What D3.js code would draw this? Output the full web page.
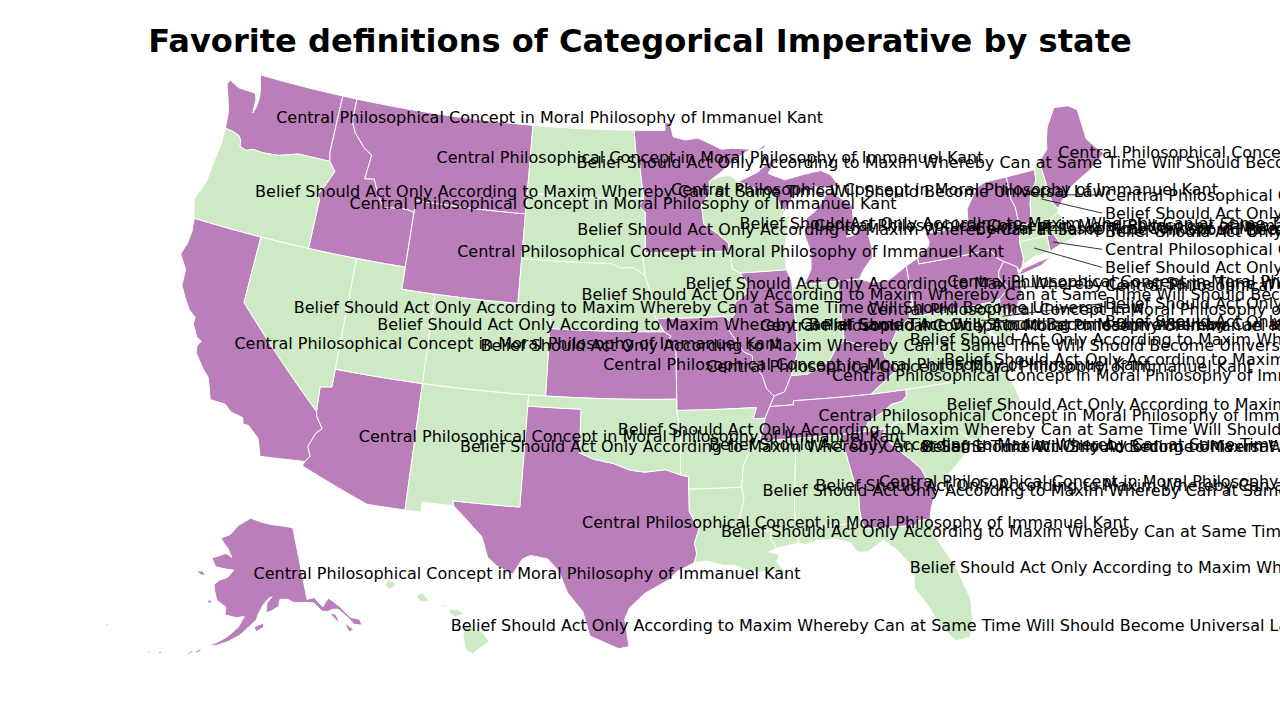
<!DOCTYPE html>
<html>
<head>
<meta charset="utf-8">
<script src="https://cdn.jsdelivr.net/npm/d3@7"></script>
<style>
  body { margin: 0; background: #fff; }
  text { font-family: "DejaVu Sans", sans-serif; fill: #000; }
</style>
</head>
<body>
<svg id="map" width="1280" height="720"></svg>
<script>
// the two definitions and who picked what
const definitions = [
  "Central Philosophical Concept in Moral Philosophy of Immanuel Kant",
  "Belief Should Act Only According to Maxim Whereby Can at Same Time Will Should Become Universal Law"
];
const titleText = "Favorite definitions of Categorical Imperative by state";
const centralStates = ["WA","ID","MT","WY","CA","AZ","TX","AK","MN","MI","KS","MO","IL","OH","KY","TN","GA","PA","NY","VT","ME","RI","NJ"];
const beliefStates = ["OR","NV","UT","CO","NM","ND","SD","NE","OK","IA","WI","AR","LA","MS","AL","IN","WV","VA","NC","SC","FL","NH","MA","CT","DE","MD","HI"];
// small states labelled off to the side
const sideStates = ["VT","NH","MA","RI","CT","NJ","DE","MD"];

const WA = [[[-122.76,49],[-117.03,49],[-117.04,46.42],[-116.92,46],[-118.98,46],[-119.3,45.93],[-120.2,45.72],[-121.2,45.65],[-121.9,45.68],[-122.3,45.55],[-122.76,45.65],[-122.8,45.9],[-123,46.1],[-123.4,46.2],[-123.98,46.25],[-124.05,46.7],[-124.1,47],[-124.4,47.6],[-124.73,48.17],[-124.6,48.38],[-123.9,48.16],[-123.1,48.15],[-122.75,48.14],[-122.6,47.9],[-122.55,47.25],[-122.42,47.6],[-122.4,48],[-122.5,48.4]]];
const OR = [[[-123.98,46.25],[-123.4,46.2],[-123,46.1],[-122.8,45.9],[-122.76,45.65],[-122.3,45.55],[-121.9,45.68],[-121.2,45.65],[-120.2,45.72],[-119.3,45.93],[-118.98,46],[-116.92,46],[-116.47,45.6],[-116.85,44.95],[-117.2,44.45],[-117.03,44.2],[-117.03,42],[-124.2,42],[-124.4,42.4],[-124.55,42.84],[-124.15,43.7],[-124.06,44.7],[-123.95,45.5]]];
const ID = [[[-117.03,49],[-116.05,49],[-116.05,48],[-115.7,47.5],[-114.95,46.93],[-114.35,46.65],[-114.5,45.56],[-113.9,45.63],[-113.45,44.95],[-113,44.45],[-112,44.55],[-111.5,44.55],[-111.05,44.47],[-111.05,42],[-117.03,42],[-117.03,44.2],[-117.2,44.45],[-116.85,44.95],[-116.47,45.6],[-116.92,46],[-117.04,46.42]]];
const MT = [[[-116.05,49],[-104.05,49],[-104.05,45],[-111.05,45],[-111.05,44.47],[-111.5,44.55],[-112,44.55],[-113,44.45],[-113.45,44.95],[-113.9,45.63],[-114.5,45.56],[-114.35,46.65],[-114.95,46.93],[-115.7,47.5],[-116.05,48]]];
const WY = [[[-111.05,45],[-104.05,45],[-104.05,41],[-111.05,41]]];
const UT = [[[-114.05,42],[-111.05,42],[-111.05,41],[-109.05,41],[-109.05,37],[-114.05,37]]];
const CO = [[[-109.05,41],[-102.05,41],[-102.05,37],[-109.05,37]]];
const NV = [[[-120,42],[-114.05,42],[-114.05,36.2],[-114.7,36.1],[-114.63,35],[-120,39]]];
const CA = [[[-124.2,42],[-120,42],[-120,39],[-114.63,35],[-114.57,34.8],[-114.14,34.3],[-114.43,34.05],[-114.72,33.4],[-114.5,33],[-114.72,32.72],[-117.12,32.53],[-117.25,32.85],[-117.45,33.3],[-118.1,33.75],[-118.4,33.75],[-118.5,34.03],[-119.2,34.15],[-119.6,34.42],[-120.47,34.45],[-120.65,34.9],[-120.9,35.4],[-121.3,35.7],[-121.9,36.3],[-121.95,36.6],[-121.8,36.85],[-122.1,36.97],[-122.5,37.5],[-122.5,37.8],[-122.95,38.05],[-123.4,38.55],[-123.75,39],[-123.8,39.7],[-124.35,40.3],[-124.15,40.85],[-124.1,41.4]]];
const AZ = [[[-114.72,32.72],[-114.5,33],[-114.72,33.4],[-114.43,34.05],[-114.14,34.3],[-114.57,34.8],[-114.63,35],[-114.7,36.1],[-114.05,36.2],[-114.05,37],[-109.05,37],[-109.05,31.33],[-111.07,31.33],[-114.8,32.5]]];
const NM = [[[-109.05,37],[-103,37],[-103.04,32],[-106.62,32],[-106.53,31.78],[-108.2,31.78],[-108.2,31.33],[-109.05,31.33]]];
const TX = [[[-103.04,36.5],[-100,36.5],[-100,34.56],[-99.2,34.3],[-98.1,34.13],[-97.2,33.85],[-96.4,33.77],[-95.3,33.88],[-94.48,33.64],[-94.04,33.55],[-94.04,33],[-94.04,32],[-93.55,31.2],[-93.8,30.6],[-93.7,30.1],[-93.85,29.7],[-94.7,29.35],[-95.2,28.95],[-96.4,28.35],[-97.15,27.7],[-97.38,27.2],[-97.15,25.96],[-97.65,25.85],[-98.3,26.1],[-99.1,26.4],[-99.5,27.5],[-100.3,28.3],[-100.8,29.25],[-101.4,29.77],[-102.3,29.88],[-102.7,29.7],[-103.15,28.98],[-104,29.3],[-104.5,29.65],[-104.9,30.55],[-106,31.4],[-106.53,31.78],[-106.62,32],[-103.04,32]]];
const OK = [[[-103,37],[-94.62,37],[-94.62,36.5],[-94.43,35.4],[-94.48,33.64],[-95.3,33.88],[-96.4,33.77],[-97.2,33.85],[-98.1,34.13],[-99.2,34.3],[-100,34.56],[-100,36.5],[-103.02,36.5]]];
const KS = [[[-102.05,40],[-95.3,40],[-94.9,39.8],[-95.1,39.55],[-94.62,39.1],[-94.62,37],[-102.05,37]]];
const NE = [[[-104.05,43],[-98.5,43],[-97.9,42.8],[-97.2,42.85],[-96.45,42.5],[-96.1,41.7],[-95.9,41.2],[-95.85,40.7],[-95.3,40],[-102.05,40],[-102.05,41],[-104.05,41]]];
const SD = [[[-104.05,45.94],[-96.56,45.94],[-96.85,45.6],[-96.45,45.3],[-96.45,43.5],[-96.6,43.5],[-96.45,42.5],[-97.2,42.85],[-97.9,42.8],[-98.5,43],[-104.05,43]]];
const ND = [[[-104.05,49],[-97.23,49],[-97.1,48],[-96.85,47.5],[-96.75,46.9],[-96.56,45.94],[-104.05,45.94]]];
const MN = [[[-97.23,49],[-95.15,49],[-95.15,49.38],[-94.8,49.3],[-94.6,48.7],[-93.8,48.55],[-92.95,48.62],[-92,48.3],[-91.4,48.07],[-90.75,48.1],[-89.5,48],[-90.5,47.6],[-91.5,47.05],[-92.1,46.75],[-92.3,46.65],[-92.3,46.1],[-92.85,45.6],[-92.75,44.75],[-91.9,44.3],[-91.25,43.85],[-91.22,43.5],[-96.45,43.5],[-96.45,45.3],[-96.85,45.6],[-96.56,45.94],[-96.75,46.9],[-96.85,47.5],[-97.1,48]]];
const IA = [[[-96.45,43.5],[-91.22,43.5],[-91.1,42.7],[-90.65,42.5],[-90.15,41.9],[-90.35,41.55],[-91.05,41.2],[-91.1,40.7],[-91.42,40.38],[-91.73,40.61],[-95.77,40.58],[-95.85,40.7],[-95.9,41.2],[-96.1,41.7],[-96.45,42.5],[-96.6,43.5]]];
const MO = [[[-95.77,40.58],[-91.73,40.61],[-91.42,40.38],[-91.5,40],[-91,39.4],[-90.7,39],[-90.2,38.8],[-90.2,38.4],[-89.7,37.9],[-89.5,37.3],[-89.1,36.95],[-89.4,36.5],[-89.7,36],[-90.37,36],[-90.15,36.5],[-94.62,36.5],[-94.62,37],[-94.62,39.1],[-95.1,39.55],[-94.9,39.8],[-95.3,40]]];
const AR = [[[-94.62,36.5],[-90.15,36.5],[-90.37,36],[-89.7,36],[-90.1,35],[-90.6,34.7],[-91.05,33.95],[-91.2,33],[-94.04,33],[-94.04,33.55],[-94.48,33.64],[-94.43,35.4]]];
const LA = [[[-94.04,33],[-91.2,33],[-91.1,32.5],[-91.6,31],[-89.73,31],[-89.85,30.67],[-89.55,30.2],[-90,30.05],[-89.4,29.9],[-89.6,29.6],[-89.15,29.05],[-89.9,29.25],[-90.6,29.15],[-91.3,29.35],[-91.8,29.55],[-92.3,29.55],[-93.2,29.77],[-93.85,29.7],[-93.7,30.1],[-93.8,30.6],[-93.55,31.2],[-94.04,32]]];
const MS = [[[-90.1,35],[-88.2,35],[-88.1,34.9],[-88.47,31.9],[-88.4,30.35],[-89.55,30.2],[-89.85,30.67],[-89.73,31],[-91.6,31],[-91.1,32.5],[-91.2,33],[-91.05,33.95],[-90.6,34.7]]];
const AL = [[[-88.2,35],[-85.6,34.98],[-85.18,32.87],[-85,32.3],[-85.05,31.55],[-85,31],[-87.6,31],[-87.45,30.4],[-88,30.25],[-88.4,30.35],[-88.47,31.9],[-88.1,34.9]]];
const TN = [[[-89.7,36],[-89.4,36.5],[-88.05,36.5],[-88.05,36.68],[-83.68,36.6],[-81.68,36.59],[-81.7,36.3],[-82,36.1],[-82.6,36.03],[-83.1,35.75],[-84,35.4],[-84.32,34.99],[-85.6,34.98],[-88.2,35],[-90.1,35]]];
const KY = [[[-89.4,36.5],[-89.1,36.95],[-88.5,37.1],[-88.05,37.8],[-87.1,37.8],[-86.5,38],[-85.8,38.27],[-85.4,38.73],[-84.8,39.1],[-84.3,38.95],[-83.65,38.63],[-82.6,38.42],[-82.6,38.15],[-81.97,37.54],[-83.68,36.6],[-88.05,36.68],[-88.05,36.5]]];
const IL = [[[-90.65,42.5],[-87.8,42.5],[-87.55,42],[-87.53,41.7],[-87.53,39.3],[-87.6,38.7],[-88,37.9],[-88.05,37.8],[-88.5,37.1],[-89.1,36.95],[-89.5,37.3],[-89.7,37.9],[-90.2,38.4],[-90.2,38.8],[-90.7,39],[-91,39.4],[-91.5,40],[-91.42,40.38],[-91.1,40.7],[-91.05,41.2],[-90.35,41.55],[-90.15,41.9]]];
const IN = [[[-87.53,41.7],[-87.2,41.75],[-86.8,41.76],[-84.8,41.76],[-84.8,39.1],[-85.4,38.73],[-85.8,38.27],[-86.5,38],[-87.1,37.8],[-88.05,37.8],[-88,37.9],[-87.6,38.7],[-87.53,39.3]]];
const OH = [[[-84.8,41.76],[-83.45,41.73],[-82.7,41.5],[-81.7,41.5],[-80.52,42],[-80.52,40.64],[-80.7,40.1],[-80.85,39.7],[-81.7,39.2],[-82.2,38.6],[-82.6,38.42],[-83.65,38.63],[-84.3,38.95],[-84.8,39.1]]];
const MI = [
  [[-86.8,41.76],[-84.8,41.76],[-83.45,41.73],[-83.15,42.1],[-82.5,42.6],[-82.42,43],[-82.6,43.9],[-83,44.05],[-83.45,43.7],[-83.9,43.65],[-83.35,44.3],[-83.3,45],[-84.1,45.5],[-84.75,45.78],[-85.1,45.4],[-85.6,45],[-86.25,44.7],[-86.5,44],[-86.2,43.2],[-86.3,42.4]],
  [[-90.42,46.57],[-89.1,46.95],[-88.45,47.3],[-87.8,47.45],[-88.45,46.85],[-87.4,46.5],[-86.1,46.67],[-85,46.75],[-84.4,46.5],[-84,46],[-84.75,45.95],[-85.5,46.05],[-86.5,45.85],[-87,45.7],[-87.6,45.1],[-87.85,45.35],[-88.1,45.9],[-89.1,46.13]],
  [[-89.25,47.88],[-88.45,48.18],[-88.55,48.02]]
];
const WI = [[[-92.1,46.75],[-91,46.9],[-90.42,46.57],[-89.1,46.13],[-88.1,45.9],[-87.85,45.35],[-87.6,45.1],[-88,44.55],[-87.4,44.9],[-87.1,45.25],[-87.5,44.4],[-87.8,43.4],[-87.8,42.5],[-90.65,42.5],[-91.1,42.7],[-91.22,43.5],[-91.25,43.85],[-91.9,44.3],[-92.75,44.75],[-92.85,45.6],[-92.3,46.1],[-92.3,46.65]]];
const PA = [[[-80.52,42],[-79.76,42.27],[-79.76,42],[-75.35,42],[-75.07,41.6],[-74.7,41.36],[-75.13,40.97],[-75.2,40.68],[-74.72,40.15],[-75.42,39.8],[-75.79,39.72],[-80.52,39.72],[-80.52,40.64]]];
const NY = [
  [[-79.76,42.27],[-79,42.7],[-78.9,42.9],[-79.05,43.27],[-77.5,43.25],[-76.3,43.5],[-76.2,44],[-75.3,44.85],[-74.7,45],[-73.35,45],[-73.4,44],[-73.25,43.6],[-73.27,42.75],[-73.5,42.05],[-73.5,41.3],[-73.65,41],[-73.93,40.8],[-74,41],[-74.7,41.36],[-75.07,41.6],[-75.35,42],[-79.76,42]],
  [[-74.03,40.6],[-72.6,40.8],[-71.87,41.07],[-72.6,41],[-73.7,40.85]]
];
const NJ = [[[-74.7,41.36],[-74,41],[-74,40.7],[-74.25,40.5],[-74,40.4],[-74.1,39.75],[-74.8,39],[-75.5,39.5],[-75.42,39.8],[-74.72,40.15],[-75.2,40.68],[-75.13,40.97]]];
const DE = [[[-75.79,39.72],[-75.42,39.8],[-75.5,39.5],[-75.1,38.8],[-75.05,38.45],[-75.7,38.46]]];
const MD = [[[-79.48,39.72],[-75.79,39.72],[-75.7,38.46],[-75.05,38.45],[-75.25,38.03],[-75.9,37.95],[-76.2,38.4],[-76.4,39],[-76.1,39.4],[-76.5,39.2],[-76.5,38.5],[-76.3,38.05],[-77,38.3],[-77.25,38.6],[-77.05,38.9],[-77.5,39.1],[-77.75,39.35],[-78.2,39.65],[-78.8,39.6],[-79.48,39.2]]];
const VA = [
  [[-83.68,36.6],[-81.97,37.54],[-81.3,37.3],[-80.3,37.5],[-79.95,38],[-79.3,38.42],[-78.85,38.8],[-78.35,39.4],[-77.83,39.13],[-77.75,39.35],[-77.5,39.1],[-77.05,38.9],[-77.25,38.6],[-77,38.3],[-76.3,38.05],[-76.3,37.5],[-76.3,37],[-76,36.92],[-75.87,36.55],[-81.68,36.59]],
  [[-75.25,38.03],[-75.9,37.95],[-75.95,37.15],[-75.6,37.6]]
];
const WV = [[[-80.52,40.64],[-80.52,39.72],[-79.48,39.72],[-79.48,39.2],[-78.8,39.6],[-78.2,39.65],[-77.75,39.35],[-77.83,39.13],[-78.35,39.4],[-78.85,38.8],[-79.3,38.42],[-79.95,38],[-80.3,37.5],[-81.3,37.3],[-81.97,37.54],[-82.6,38.15],[-82.6,38.42],[-82.2,38.6],[-81.7,39.2],[-80.85,39.7],[-80.7,40.1]]];
const NC = [[[-81.68,36.59],[-75.87,36.55],[-75.5,35.25],[-76.5,34.65],[-77.5,34.4],[-77.95,33.87],[-78.55,33.86],[-79.67,34.8],[-80.8,34.82],[-81.05,35.1],[-82.4,35.2],[-83.1,35],[-84.32,34.99],[-84,35.4],[-83.1,35.75],[-82.6,36.03],[-82,36.1],[-81.7,36.3]]];
const SC = [[[-83.1,35],[-82.4,35.2],[-81.05,35.1],[-80.8,34.82],[-79.67,34.8],[-78.55,33.86],[-79.2,33.2],[-79.9,32.7],[-80.85,32.05],[-81.15,32.15],[-81.5,33],[-82,33.5],[-82.6,34],[-83.35,34.7]]];
const GA = [[[-85.6,34.98],[-84.32,34.99],[-83.1,35],[-83.35,34.7],[-82.6,34],[-82,33.5],[-81.5,33],[-81.15,32.15],[-80.85,32.05],[-81.3,31.2],[-81.45,30.72],[-82.05,30.75],[-82.2,30.55],[-84.86,30.7],[-85,31],[-85.05,31.55],[-85,32.3],[-85.18,32.87]]];
const FL = [[[-87.6,31],[-85,31],[-84.86,30.7],[-82.2,30.55],[-82.05,30.75],[-81.45,30.72],[-81.25,29.8],[-80.5,28.4],[-80.05,26.9],[-80.15,25.75],[-80.4,25.2],[-81.1,25.15],[-81.75,25.95],[-82.2,26.9],[-82.75,27.8],[-82.65,28.7],[-83.4,29.6],[-84,30.1],[-84.9,29.65],[-85.4,29.7],[-85.7,30.15],[-86.5,30.38],[-87.45,30.4]]];
const VT = [[[-73.35,45],[-71.5,45.01],[-71.6,44.5],[-72.05,44.1],[-72.3,43.6],[-72.45,43],[-72.46,42.73],[-73.27,42.75],[-73.25,43.6],[-73.4,44]]];
const NH = [[[-71.5,45.01],[-71.3,45.3],[-71.08,45.3],[-70.98,43.4],[-70.7,43.07],[-70.82,42.87],[-71.3,42.7],[-72.46,42.73],[-72.45,43],[-72.3,43.6],[-72.05,44.1],[-71.6,44.5]]];
const ME = [[[-71.08,45.3],[-70.4,45.75],[-70.25,46.2],[-70,46.7],[-69.23,47.46],[-68.3,47.36],[-67.8,47.07],[-67.8,45.7],[-67.45,45.3],[-67,44.85],[-68.2,44.3],[-69,44.05],[-69.8,43.75],[-70.7,43.07],[-70.98,43.4]]];
const MA = [[[-73.5,42.05],[-73.27,42.75],[-72.46,42.73],[-71.3,42.7],[-70.82,42.87],[-70.6,42.65],[-71,42.3],[-70.65,41.95],[-70,41.8],[-70.2,42.07],[-69.95,41.7],[-70.65,41.55],[-71.12,41.5],[-71.38,42.02],[-71.8,42.02]]];
const RI = [[[-71.8,42.02],[-71.38,42.02],[-71.12,41.5],[-71.85,41.32]]];
const CT = [[[-73.5,42.05],[-71.8,42.02],[-71.85,41.32],[-72.9,41.25],[-73.65,41],[-73.5,41.3]]];
const HI = [
  [[-155.9,20.25],[-155.2,19.98],[-155.08,19.85],[-154.8,19.5],[-155.6,18.95],[-155.9,19.1],[-156.05,19.75]],
  [[-156.7,20.95],[-156.3,20.95],[-156,20.75],[-156.4,20.6],[-156.7,20.8]],
  [[-157.3,21.2],[-156.75,21.15],[-157,21.08]],
  [[-158.28,21.57],[-157.95,21.7],[-157.65,21.3],[-158.1,21.3]],
  [[-159.8,22.05],[-159.55,22.25],[-159.28,22.15],[-159.3,21.95],[-159.55,21.85]]
];
const AK = [
  [[-141,69.65],[-141,60.3],[-139.1,60.35],[-137.5,58.9],[-136.5,59.45],[-135.5,59.8],[-133.5,58.4],[-131.8,56.6],[-130,56],[-130,55.2],[-131.5,55.6],[-132.5,56.8],[-134,58.1],[-135.3,58.3],[-136.6,58.2],[-137.9,58.4],[-139.5,59.7],[-142,60],[-144.5,60.2],[-146,60.7],[-148,60.8],[-148.5,59.9],[-150.5,59.4],[-151.8,59.2],[-151.4,60.5],[-150,61.2],[-151,61],[-152.5,60.2],[-153.8,59],[-154.2,58.3],[-156,57.4],[-158,56.3],[-160.5,55.4],[-163,54.7],[-164.8,54.6],[-163,55.1],[-161,55.9],[-158.5,57.3],[-157.2,58.7],[-159,58.5],[-162,58.7],[-162,59.7],[-164.5,60.4],[-165.5,61.5],[-166,62.3],[-164.7,63],[-162.5,63.5],[-161,64.5],[-163,64.5],[-166.5,64.6],[-168.1,65.6],[-164,66.5],[-162,66.1],[-163.5,67.1],[-166.5,68.3],[-163.5,69],[-161,70.3],[-156.6,71.35],[-152,70.8],[-148,70.4],[-144,70.05]],
  [[-154.4,57.5],[-152.5,57.9],[-152.4,57.4],[-154.2,56.8],[-154.7,57.3]],
  [[-133.6,56.3],[-132.3,55.2],[-131.7,55.1],[-133.2,54.9]],
  [[-136.3,58],[-134.9,57.5],[-134.6,56.3],[-135.4,57]],
  [[-171.7,63.5],[-170,63.7],[-168.8,63.2],[-170.3,63.2]],
  [[-167,60.2],[-165.7,60.3],[-165.9,59.9],[-166.8,59.9]],
  [[-167.8,53.3],[-166.3,53.95],[-166.2,53.7],[-167,53.35]],
  [[-169,53],[-168,53.55],[-167.9,53.3],[-168.9,52.85]],
  [[-174.6,52.4],[-174,52.2],[-174.9,52.02]],
  [[-176.9,52],[-176.4,51.85],[-176.9,51.62]],
  [[172.5,52.98],[173.4,52.9],[172.9,52.72]]
];
const outlines = {WA,OR,ID,MT,WY,UT,CO,NV,CA,AZ,NM,TX,OK,KS,NE,SD,ND,MN,IA,MO,AR,LA,MS,AL,TN,KY,IL,IN,OH,MI,WI,PA,NY,NJ,DE,MD,VA,WV,NC,SC,GA,FL,VT,NH,ME,MA,RI,CT,HI,AK};

const width = 1280, height = 720;
const purple = "#ba7eba", green = "#cdeac5";
const svg = d3.select("#map");

const colour = d3.scaleOrdinal().domain([0, 1]).range([purple, green]);
const defOf = code => centralStates.includes(code) ? 0 : 1;

// long straight borders follow parallels, so add points or they bend as great arcs
function densify(ring) {
  const out = [];
  ring.forEach((p, i) => {
    const q = ring[(i + 1) % ring.length];
    const n = Math.max(1, Math.ceil(Math.hypot(q[0] - p[0], q[1] - p[1])));
    for (let k = 0; k < n; k++) out.push([p[0] + (q[0] - p[0]) * k / n, p[1] + (q[1] - p[1]) * k / n]);
  });
  out.push(out[0]);
  return out;
}

function toFeature(code) {
  const polys = outlines[code].map(ring => {
    let r = densify(ring);
    if (d3.geoArea({type: "Polygon", coordinates: [r]}) > 2 * Math.PI) r = r.slice().reverse();
    return [r];
  });
  return {type: "Feature", id: code, geometry: {type: "MultiPolygon", coordinates: polys}};
}

const features = centralStates.concat(beliefStates).map(toFeature);
const projection = d3.geoAlbersUsa().scale(1280).translate([642, 361]);
const path = d3.geoPath(projection);

svg.append("g").selectAll("path")
  .data(features)
  .join("path")
  .attr("d", path)
  .attr("fill", d => colour(defOf(d.id)))
  .attr("stroke", "#fff")
  .attr("stroke-width", 1);

// labels start a little left of the state's centre
const labelDx = -8, labelDy = -1.3;
const sideX = 1105, sideTop = 195, sideStep = 18.1;
const labels = features.map(d => {
  const c = path.centroid(d), i = sideStates.indexOf(d.id);
  return {
    code: d.id, c, side: i >= 0,
    x: i < 0 ? c[0] + labelDx : sideX,
    y: i < 0 ? c[1] + labelDy : sideTop + i * sideStep
  };
});

svg.append("g").selectAll("line")
  .data(labels.filter(d => d.side))
  .join("line")
  .attr("x1", d => d.c[0]).attr("y1", d => d.c[1])
  .attr("x2", d => d.x - 3).attr("y2", d => d.y)
  .attr("stroke", "#000")
  .attr("stroke-width", 0.8);

svg.append("g").selectAll("text")
  .data(labels)
  .join("text")
  .attr("x", d => d.x).attr("y", d => d.y)
  .attr("dy", "0.36em")
  .attr("font-size", 16)
  .text(d => definitions[defOf(d.code)]);

svg.append("text")
  .attr("x", width / 2).attr("y", 52)
  .attr("text-anchor", "middle")
  .attr("font-size", 32.1)
  .attr("font-weight", "bold")
  .text(titleText);
</script>
</body>
</html>
